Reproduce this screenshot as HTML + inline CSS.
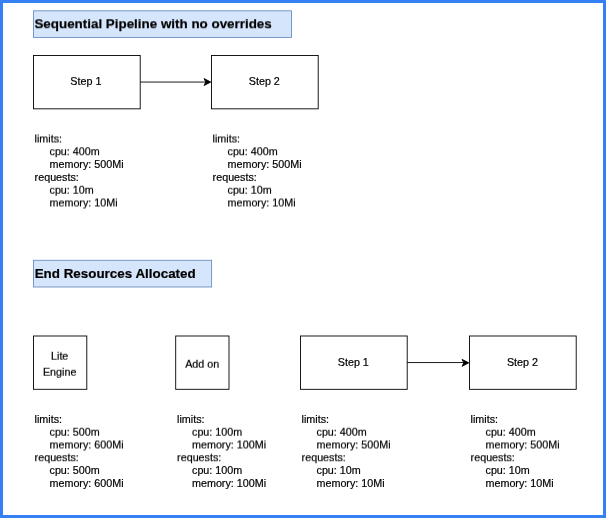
<!DOCTYPE html>
<html lang="en">
<head>
<meta charset="utf-8">
<title>Sequential Pipeline with no overrides</title>
<style>
html,body{margin:0;padding:0;background:#fff;}
body{width:606px;height:518px;overflow:hidden;position:relative;}
.frame{position:absolute;left:0;top:0;width:606px;height:518px;box-sizing:border-box;border:3px solid #3580f4;}
svg{position:absolute;left:0;top:0;display:block;will-change:transform;}
svg text{font-family:"Liberation Sans",Arial,Helvetica,sans-serif;font-size:10.75px;fill:#000;stroke:#000;stroke-width:0.2px;}
svg text.t{font-weight:bold;font-size:13.4px;}
svg text.c{text-anchor:middle;}
</style>
</head>
<body>
<div class="frame"></div>
<svg width="606" height="518" viewBox="0 0 606 518">
<defs>
<filter id="s1" x="-5%" y="-60%" width="110%" height="220%" color-interpolation-filters="sRGB"><feConvolveMatrix order="1 2" kernelMatrix="0.75 0.25" targetY="1" edgeMode="none" preserveAlpha="false"/></filter>
<filter id="s2" x="-5%" y="-60%" width="110%" height="220%" color-interpolation-filters="sRGB"><feConvolveMatrix order="1 2" kernelMatrix="0.5 0.5" targetY="1" edgeMode="none" preserveAlpha="false"/></filter>
<filter id="s3" x="-5%" y="-60%" width="110%" height="220%" color-interpolation-filters="sRGB"><feConvolveMatrix order="1 2" kernelMatrix="0.25 0.75" targetY="1" edgeMode="none" preserveAlpha="false"/></filter>
</defs>
<g>
<rect x="33.5" y="10.8" width="258" height="26.6" fill="#d5e5fb" stroke="#6c8ebf" stroke-width="0.9"/>
<rect x="33.5" y="260.3" width="178.1" height="26.7" fill="#d5e5fb" stroke="#6c8ebf" stroke-width="0.9"/>
<rect x="33.5" y="55.5" width="106.7" height="53.33" fill="#fff" stroke="#000" stroke-width="0.9"/>
<rect x="211.5" y="55.5" width="106.7" height="53.33" fill="#fff" stroke="#000" stroke-width="0.9"/>
<path d="M140.2 82.05 L205.85 82.05" stroke="#000" stroke-width="0.9" fill="none"/><path d="M210.75 82.05 L204.05 78.60 L205.85 82.05 L204.05 85.50 Z" fill="#000" stroke="#000" stroke-width="0.9" stroke-miterlimit="10"/>
<rect x="33.5" y="336.0" width="53.3" height="53.3" fill="#fff" stroke="#000" stroke-width="0.9"/>
<rect x="175.7" y="336.0" width="53.3" height="53.3" fill="#fff" stroke="#000" stroke-width="0.9"/>
<rect x="300.5" y="336.0" width="106.7" height="53.33" fill="#fff" stroke="#000" stroke-width="0.9"/>
<rect x="469.5" y="336.0" width="106.7" height="53.33" fill="#fff" stroke="#000" stroke-width="0.9"/>
<path d="M407.2 362.55 L463.85 362.55" stroke="#000" stroke-width="0.9" fill="none"/><path d="M468.75 362.85 L462.05 359.40 L463.85 362.85 L462.05 366.30 Z" fill="#000" stroke="#000" stroke-width="0.9" stroke-miterlimit="10"/>
</g>
<g>
<text class="t" x="34.40" y="28" filter="url(#s1)">Sequential Pipeline with no overrides</text>
<text class="t" x="34.70" y="278">End Resources Allocated</text>
<text class="c" x="85.90" y="85">Step 1</text>
<text class="c" x="264.30" y="85">Step 2</text>
<text x="34.60" y="142" filter="url(#s2)">limits:</text>
<text x="49.50" y="155" filter="url(#s1)">cpu: 400m</text>
<text x="49.50" y="168">memory: 500Mi</text>
<text x="34.60" y="181">requests:</text>
<text x="49.50" y="193" filter="url(#s3)">cpu: 10m</text>
<text x="49.50" y="206" filter="url(#s2)">memory: 10Mi</text>
<text x="212.60" y="142" filter="url(#s2)">limits:</text>
<text x="227.50" y="155" filter="url(#s1)">cpu: 400m</text>
<text x="227.50" y="168">memory: 500Mi</text>
<text x="212.60" y="181">requests:</text>
<text x="227.50" y="193" filter="url(#s3)">cpu: 10m</text>
<text x="227.50" y="206" filter="url(#s2)">memory: 10Mi</text>
<text class="c" x="59.70" y="359" filter="url(#s3)">Lite</text>
<text class="c" x="59.70" y="375" filter="url(#s3)">Engine</text>
<text class="c" x="202.20" y="367" filter="url(#s3)">Add on</text>
<text class="c" x="353.30" y="366">Step 1</text>
<text class="c" x="522.50" y="366">Step 2</text>
<text x="34.60" y="423">limits:</text>
<text x="49.50" y="435" filter="url(#s3)">cpu: 500m</text>
<text x="49.50" y="448" filter="url(#s2)">memory: 600Mi</text>
<text x="34.60" y="461" filter="url(#s1)">requests:</text>
<text x="49.50" y="474">cpu: 500m</text>
<text x="49.50" y="487">memory: 600Mi</text>
<text x="177.10" y="423">limits:</text>
<text x="192.00" y="435" filter="url(#s3)">cpu: 100m</text>
<text x="192.00" y="448" filter="url(#s2)">memory: 100Mi</text>
<text x="177.10" y="461" filter="url(#s1)">requests:</text>
<text x="192.00" y="474">cpu: 100m</text>
<text x="192.00" y="487">memory: 100Mi</text>
<text x="301.60" y="423">limits:</text>
<text x="316.50" y="435" filter="url(#s3)">cpu: 400m</text>
<text x="316.50" y="448" filter="url(#s2)">memory: 500Mi</text>
<text x="301.60" y="461" filter="url(#s1)">requests:</text>
<text x="316.50" y="474">cpu: 10m</text>
<text x="316.50" y="487">memory: 10Mi</text>
<text x="470.60" y="423">limits:</text>
<text x="485.50" y="435" filter="url(#s3)">cpu: 400m</text>
<text x="485.50" y="448" filter="url(#s2)">memory: 500Mi</text>
<text x="470.60" y="461" filter="url(#s1)">requests:</text>
<text x="485.50" y="474">cpu: 10m</text>
<text x="485.50" y="487">memory: 10Mi</text>
</g>
</svg>
</body>
</html>
